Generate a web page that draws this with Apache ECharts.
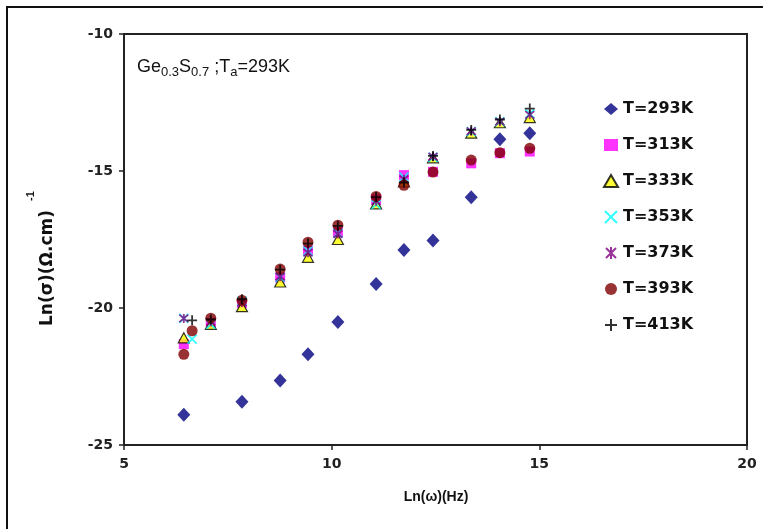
<!DOCTYPE html>
<html>
<head>
<meta charset="utf-8">
<script src="https://cdn.jsdelivr.net/npm/echarts@6/dist/echarts.min.js"></script>
<style>
  html, body { margin: 0; padding: 0; background: #fff; }
  #chart { width: 763px; height: 529px; }
</style>
</head>
<body>
<div id="chart"></div>
<script>
// Conductivity vs. frequency, Ge0.3S0.7 annealed at 293 K
const seriesNames = ['T=293K', 'T=313K', 'T=333K', 'T=353K', 'T=373K', 'T=393K', 'T=413K'];

const x293 = [6.44, 7.84, 8.76, 9.43, 10.15, 11.07, 11.74, 12.44, 13.36, 14.05, 14.77];
const y293 = [-23.9, -23.42, -22.65, -21.69, -20.51, -19.12, -17.88, -17.54, -15.96, -13.84, -13.62];

const x313 = [6.44, 7.09, 7.84, 8.76, 9.43, 10.15, 11.07, 11.74, 12.44, 13.36, 14.05, 14.77];
const y313 = [-21.32, -20.54, -19.81, -18.89, -17.9, -17.23, -16.03, -15.15, -15.03, -14.72, -14.35, -14.29];

const x333 = [6.44, 7.09, 7.84, 8.76, 9.43, 10.15, 11.07, 11.74, 12.44, 13.36, 14.05, 14.77];
const y333 = [-21.09, -20.6, -19.95, -19.05, -18.15, -17.5, -16.2, -15.4, -14.52, -13.62, -13.24, -13.05];

const x353 = [6.44, 6.64, 7.09, 7.84, 8.76, 9.43, 10.15, 11.07, 11.74, 12.44, 13.36, 14.05, 14.77];
const y353 = [-20.38, -21.14, -20.6, -19.75, -18.87, -17.92, -17.27, -16.22, -15.22, -14.5, -13.56, -13.2, -12.92];

const x373 = [6.44, 7.09, 7.84, 8.76, 9.43, 10.15, 11.07, 11.74, 12.44, 13.36, 14.05, 14.77];
const y373 = [-20.38, -20.5, -19.8, -18.85, -17.98, -17.3, -16.1, -15.3, -14.48, -13.55, -13.2, -12.95];

const x393 = [6.44, 6.64, 7.09, 7.84, 8.76, 9.43, 10.15, 11.07, 11.74, 12.44, 13.36, 14.05, 14.77];
const y393 = [-21.69, -20.83, -20.37, -19.72, -18.58, -17.6, -16.98, -15.93, -15.52, -15.04, -14.6, -14.33, -14.17];

const x413 = [6.64, 7.09, 7.84, 8.76, 9.43, 10.15, 11.07, 11.74, 12.44, 13.36, 14.05, 14.77];
const y413 = [-20.45, -20.42, -19.68, -18.6, -17.65, -17.0, -15.95, -15.42, -14.45, -13.5, -13.12, -12.72];

const xTicks = [5, 10, 15, 20];
const yTicks = [-10, -15, -20, -25];

const xsAll = [x293, x313, x333, x353, x373, x393, x413];
const ysAll = [y293, y313, y333, y353, y373, y393, y413];

const pair = (xs, ys) => xs.map((x, i) => [x, ys[i]]);

// marker appearance for each temperature
const markerStyles = [
  { symbol: 'diamond', symbolSize: [13, 14], itemStyle: { color: '#000080' } },
  { symbol: 'rect', symbolSize: 10, itemStyle: { color: '#FF00FF' } },
  { symbol: 'triangle', symbolSize: [11, 10], itemStyle: { color: '#FFFF00', borderColor: '#000', borderWidth: 1.2 } },
  { symbol: 'path://M0,0L10,10M0,10L10,0', symbolSize: 9, itemStyle: { color: '#00FFFF', borderColor: '#00FFFF', borderWidth: 1.8 } },
  { symbol: 'path://M0,0L10,10M0,10L10,0M5,-1L5,11', symbolSize: 9, itemStyle: { color: '#800080', borderColor: '#800080', borderWidth: 1.8 } },
  { symbol: 'circle', symbolSize: 11, itemStyle: { color: '#800000' } },
  { symbol: 'path://M5,0L5,10M0,5L10,5', symbolSize: 10, itemStyle: { color: '#000', borderColor: '#000', borderWidth: 1.8 } }
];

const chart = echarts.init(document.getElementById('chart'), null, { renderer: 'canvas' });

const font = 'Liberation Sans, Arial, sans-serif';
const wideFont = 'DejaVu Sans, Liberation Sans, sans-serif';

chart.setOption({
  animation: false,
  backgroundColor: '#fff',
  grid: {
    left: 124, right: 16, top: 34, bottom: 84,
    show: true, borderColor: '#222', borderWidth: 2, backgroundColor: '#fff'
  },
  xAxis: {
    type: 'value', min: xTicks[0], max: xTicks[xTicks.length - 1], interval: 5,
    axisLine: { show: true, onZero: false, lineStyle: { color: '#222', width: 2 } },
    axisTick: { show: true, length: 5, lineStyle: { color: '#222', width: 1.5 } },
    splitLine: { show: false },
    axisLabel: { color: '#222', fontFamily: wideFont, fontWeight: 'bold', fontSize: 14, margin: 12 }
  },
  yAxis: {
    type: 'value', min: yTicks[yTicks.length - 1], max: yTicks[0], interval: 5,
    axisLine: { show: true, onZero: false, lineStyle: { color: '#222', width: 2 } },
    axisTick: { show: true, length: 5, lineStyle: { color: '#222', width: 1.5 } },
    splitLine: { show: false },
    axisLabel: { color: '#222', fontFamily: wideFont, fontWeight: 'bold', fontSize: 14, margin: 11 }
  },
  legend: {
    orient: 'vertical', left: 598, top: 95,
    itemWidth: 14, itemHeight: 12, itemGap: 18,
    textStyle: { color: '#111', fontFamily: wideFont, fontWeight: 'bold', fontSize: 16, lineHeight: 18 },
    data: seriesNames
  },
  graphic: [
    {
      type: 'rect', silent: true, z: 100,
      shape: { x: 7, y: 7, width: 800, height: 600 },
      style: { fill: 'none', stroke: '#111', lineWidth: 2 }
    },
    {
      type: 'text', left: 137, top: 58, z: 100,
      style: {
        text: '{n|Ge}{s|0.3}{n|S}{s|0.7}{n| ;T}{s|a}{n|=293K}',
        rich: {
          n: { fontFamily: font, fontSize: 18, lineHeight: 24, fill: '#111' },
          s: { fontFamily: font, fontSize: 13, lineHeight: 12, verticalAlign: 'bottom', fill: '#111' }
        }
      }
    },
    {
      type: 'text', z: 100, x: 48, y: 268, rotation: Math.PI / 2,
      style: {
        text: 'Ln(σ)(Ω.cm)', fontFamily: wideFont, fontWeight: 'bold', fontSize: 17,
        fill: '#111', align: 'center', verticalAlign: 'middle'
      }
    },
    {
      type: 'text', z: 100, x: 31, y: 196, rotation: Math.PI / 2,
      style: {
        text: '-1', fontFamily: font, fontWeight: 'bold', fontSize: 11,
        fill: '#111', align: 'center', verticalAlign: 'middle'
      }
    },
    {
      type: 'text', z: 100, x: 436, y: 497,
      style: {
        text: 'Ln(ω)(Hz)', fontFamily: font, fontWeight: 'bold', fontSize: 14,
        fill: '#111', align: 'center', verticalAlign: 'middle'
      }
    }
  ],
  series: seriesNames.map((name, i) => Object.assign({
    name: name,
    type: 'scatter',
    data: pair(xsAll[i], ysAll[i])
  }, markerStyles[i]))
});
</script>
</body>
</html>
